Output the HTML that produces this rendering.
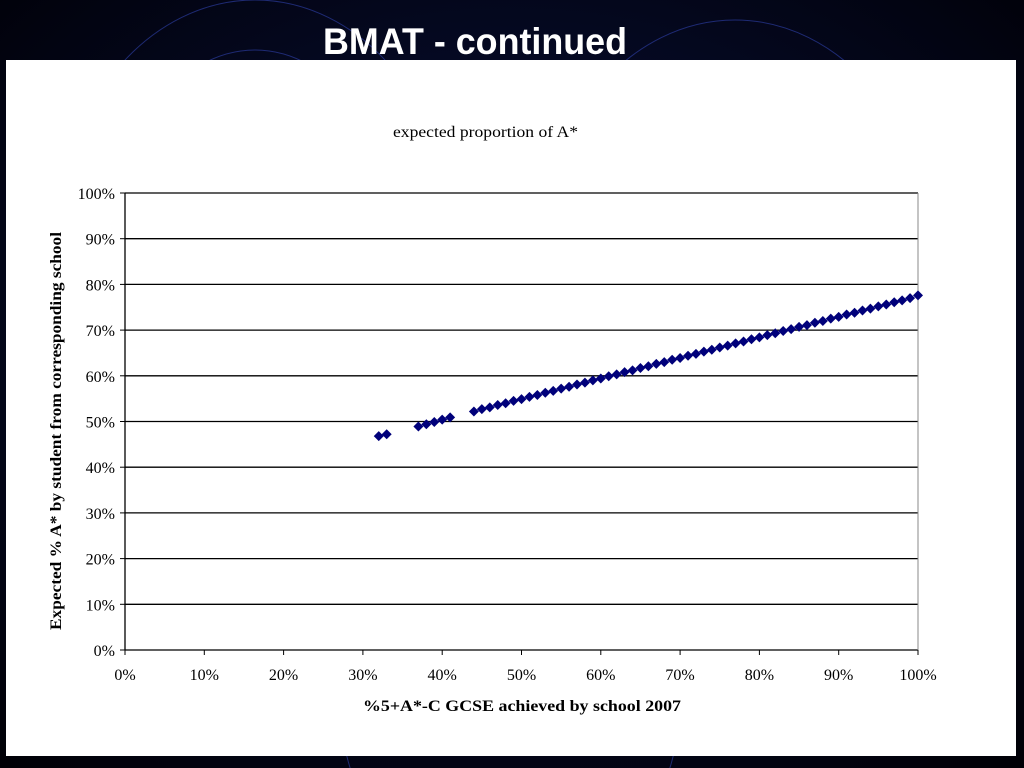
<!DOCTYPE html>
<html><head><meta charset="utf-8">
<style>
html,body{margin:0;padding:0;width:1024px;height:768px;overflow:hidden;background:#02030f;}
svg{display:block}
</style></head>
<body>
<svg width="1024" height="768" style="overflow:hidden">
<defs>
<radialGradient id="bg" cx="50%" cy="45%" r="75%">
<stop offset="0" stop-color="#0a1240"/><stop offset="1" stop-color="#000005"/>
</radialGradient>
</defs>
<rect width="1024" height="768" fill="url(#bg)"/>
<g fill="none" stroke="#2a3a9a" stroke-width="1" opacity="0.7">
<ellipse cx="255" cy="250" rx="200" ry="250"/>
<ellipse cx="255" cy="270" rx="150" ry="220"/>
<ellipse cx="735" cy="270" rx="200" ry="250"/>
<ellipse cx="735" cy="290" rx="150" ry="220"/>
<ellipse cx="510" cy="700" rx="170" ry="200"/>
</g>
<text x="323" y="54" textLength="304" lengthAdjust="spacingAndGlyphs" fill="#fff" font-family="Liberation Sans, sans-serif" font-weight="bold" font-size="37">BMAT - continued</text>
<rect x="6" y="60" width="1010" height="696" fill="#fff"/>
<text x="393" y="137" textLength="185" lengthAdjust="spacingAndGlyphs" font-family="Liberation Serif, serif" font-size="16" fill="#000">expected proportion of A*</text>
<g id="grid"></g>
<g id="axes"></g>
<g id="marks"></g>
<text x="363" y="711" textLength="318" lengthAdjust="spacingAndGlyphs" font-family="Liberation Serif, serif" font-weight="bold" font-size="16" fill="#000">%5+A*-C GCSE achieved by school 2007</text>
<text transform="translate(61,630) rotate(-90)" x="0" y="0" textLength="398" lengthAdjust="spacingAndGlyphs" font-family="Liberation Serif, serif" font-weight="bold" font-size="16" fill="#000">Expected % A* by student from corresponding school</text>
</svg>
<script>
const xVals=[32,33,37,38,39,40,41,44,45,46,47,48,49,50,51,52,53,54,55,56,57,58,59,60,61,62,63,64,65,66,67,68,69,70,71,72,73,74,75,76,77,78,79,80,81,82,83,84,85,86,87,88,89,90,91,92,93,94,95,96,97,98,99,100];
const yVals=[46.8,47.2,48.9,49.4,49.9,50.4,50.9,52.2,52.7,53.1,53.6,54.0,54.5,54.9,55.4,55.8,56.3,56.7,57.2,57.6,58.1,58.5,59.0,59.4,59.9,60.3,60.8,61.2,61.7,62.1,62.6,63.0,63.5,63.9,64.4,64.8,65.3,65.7,66.2,66.6,67.1,67.5,68.0,68.4,68.9,69.3,69.8,70.2,70.7,71.1,71.6,72.0,72.5,72.9,73.4,73.8,74.3,74.7,75.2,75.6,76.1,76.5,77.0,77.6];
const xTicks=[0,10,20,30,40,50,60,70,80,90,100];
const yTicks=[0,10,20,30,40,50,60,70,80,90,100];
const X0=125,X1=918,Y0=650,Y1=193;
const sx=v=>X0+(X1-X0)*v/100, sy=v=>Y0-(Y0-Y1)*v/100;
const NS="http://www.w3.org/2000/svg";
function mk(tag,attrs,parent){const e=document.createElementNS(NS,tag);for(const k in attrs)e.setAttribute(k,attrs[k]);document.getElementById(parent).appendChild(e);return e;}
const F="Liberation Serif, serif";
yTicks.forEach(t=>{
 const y=sy(t);
 const l=mk('line',{x1:X0,x2:X1,y1:y,y2:y,stroke:'#000','stroke-width':1.3},'grid');
 
 
 const tk=mk('line',{x1:X0-5,x2:X0,y1:y,y2:y,stroke:'#000'},'axes');
 
 
 const tx=mk('text',{x:X0-10,y:y+6,'text-anchor':'end','font-family':F,'font-size':16,fill:'#000'},'axes');
 tx.textContent=t+'%';
 
 
});
xTicks.forEach(t=>{
 const x=sx(t);
 const tk=mk('line',{x1:x,x2:x,y1:Y0,y2:Y0+5,stroke:'#000'},'axes');
 
 
 const tx=mk('text',{x:x,y:Y0+30,'text-anchor':'middle','font-family':F,'font-size':16,fill:'#000'},'axes');
 tx.textContent=t+'%';
 
 
});
const ya=mk('line',{x1:X0,x2:X0,y1:Y1,y2:Y0,stroke:'#000','stroke-width':1.3},'axes');


const yr=mk('line',{x1:X1,x2:X1,y1:Y1,y2:Y0,stroke:'#888','stroke-width':1},'axes');


xVals.forEach((v,i)=>{
 const x=sx(v),y=sy(yVals[i]),r=5;
 const p=mk('polygon',{points:`${x},${y-r} ${x+r},${y} ${x},${y+r} ${x-r},${y}`,fill:'#00007a'},'marks');
 
 
});
</script>
</body></html>
